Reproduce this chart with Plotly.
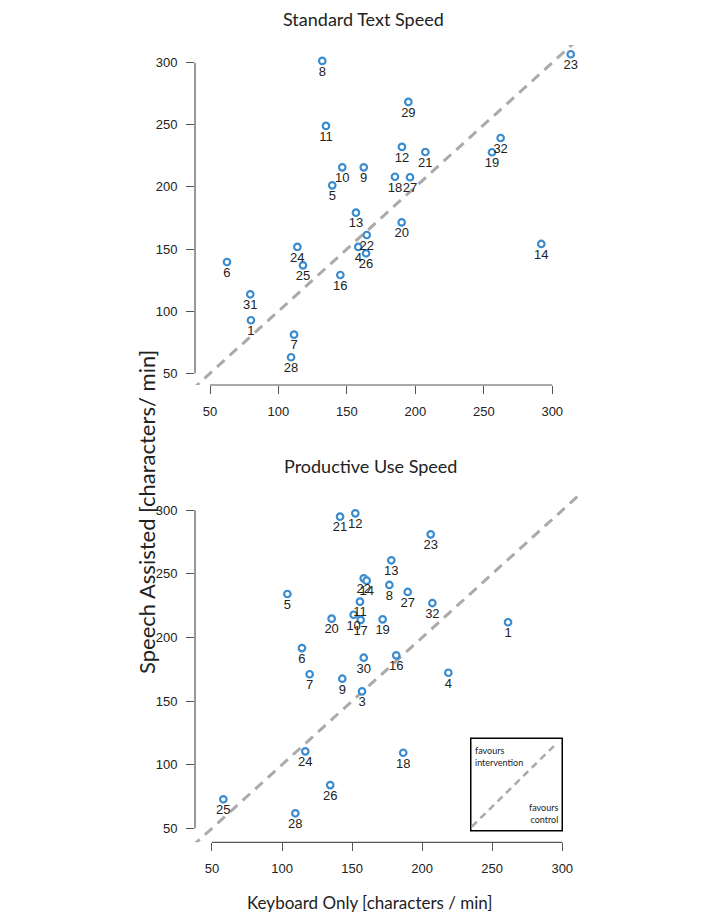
import plotly.graph_objects as go

# ---- Data: Standard Text Speed ----
std_ids = ["8", "11", "10", "9", "5", "13", "22", "4", "26", "24", "25", "6", "16", "31", "1",
           "7", "28", "29", "12", "21", "18", "27", "32", "19", "23", "20", "14"]
std_keyboard = [132.0, 134.7, 146.6, 162.3, 139.3, 156.6, 164.5, 158.3, 164.0, 113.8, 117.9, 62.4,
                145.2, 79.4, 79.9, 111.4, 109.2, 194.9, 190.2, 207.3, 185.1, 196.1, 262.3, 256.0,
                313.5, 190.0, 292.0]
std_speech = [301.4, 249.1, 215.8, 215.8, 201.3, 179.3, 161.3, 151.7, 146.6, 151.7, 136.9, 139.6,
              129.1, 113.6, 92.7, 81.1, 62.9, 268.4, 232.2, 228.1, 208.2, 207.8, 239.4, 227.9,
              306.8, 171.5, 154.1]

# ---- Data: Productive Use Speed ----
prod_ids = ["21", "12", "22", "14", "5", "11", "10", "17", "20", "19", "6", "30", "7", "9", "3",
            "24", "26", "25", "28", "23", "13", "8", "27", "32", "1", "16", "4", "18"]
prod_keyboard = [141.4, 152.3, 158.3, 160.4, 103.8, 155.6, 151.1, 156.1, 135.4, 171.8, 114.2, 158.3,
                 119.7, 143.0, 157.1, 116.6, 134.4, 58.1, 109.5, 206.1, 178.0, 176.6, 189.7, 207.3,
                 261.3, 181.5, 218.7, 186.5]
prod_speech = [295.0, 297.6, 246.5, 244.7, 234.2, 228.2, 217.9, 213.8, 214.8, 214.3, 191.7, 184.1,
               171.1, 167.6, 157.7, 110.5, 84.0, 72.8, 61.8, 281.1, 260.7, 241.3, 235.8, 227.1,
               212.0, 186.0, 172.3, 109.4]

tick_vals = [50, 100, 150, 200, 250, 300]
tick_text = ["50", "100", "150", "200", "250", "300"]

OFF = 8  # page body margin
W, H = 709 - OFF, 922 - OFF
BLUE = "#3a8ccf"
AXC = "#555555"
TXT = "#222222"

def px_x(p):
    return (p - OFF) / W

def px_y(p):
    return 1 - (p - OFF) / H

fig = go.Figure()

def add_panel(xs, ys, ids, xa, ya):
    fig.add_trace(go.Scatter(
        x=[0, 400], y=[0, 400], mode="lines",
        line=dict(color="#aaaaaa", width=3, dash="10px,7px"),
        xaxis=xa, yaxis=ya, hoverinfo="skip", showlegend=False))
    fig.add_trace(go.Scatter(
        x=xs, y=ys, mode="markers+text", text=ids, textposition="bottom center",
        textfont=dict(family="Liberation Sans, Arial", size=13, color=TXT),
        marker=dict(symbol="circle", size=6.5, color="white",
                    line=dict(color=BLUE, width=2.2)),
        xaxis=xa, yaxis=ya, showlegend=False, cliponaxis=False))

add_panel(std_keyboard, std_speech, std_ids, "x", "y")
add_panel(prod_keyboard, prod_speech, prod_ids, "x2", "y2")

# pixel geometry (page pixels)
left_px, right_px = 195, 580
top1_px, bot1_px = 45, 385
top2_px, bot2_px = 495, 842.3

def ax_common():
    return dict(tickvals=tick_vals, ticktext=tick_text, ticks="outside", ticklen=8,
                tickwidth=1, tickcolor=AXC, showline=False, showgrid=False, zeroline=False,
                tickfont=dict(family="Liberation Sans, Arial", size=13, color=TXT))

fig.update_layout(
    width=W, height=H, margin=dict(l=0, r=0, t=0, b=0),
    paper_bgcolor="white", plot_bgcolor="white", showlegend=False,
    xaxis=dict(domain=[px_x(left_px), px_x(right_px)], range=[39.04, 320.27], anchor="y",
               ticklabelstandoff=6, **ax_common()),
    yaxis=dict(domain=[px_y(bot1_px), px_y(top1_px)], range=[40.58, 314.24], anchor="x",
               ticklabelstandoff=6, **ax_common()),
    xaxis2=dict(domain=[px_x(left_px), px_x(right_px)], range=[37.87, 312.67], anchor="y2",
                ticklabelstandoff=6, **ax_common()),
    yaxis2=dict(domain=[px_y(bot2_px), px_y(top2_px)], range=[38.99, 312.03], anchor="x2",
                ticklabelstandoff=6, **ax_common()),
)

# R-style axis lines spanning first to last tick
for xa, ya in (("x", "y"), ("x2", "y2")):
    fig.add_shape(type="line", xref=xa, yref=ya + " domain", x0=50, x1=300, y0=0, y1=0,
                  line=dict(color=AXC, width=1.2))
    fig.add_shape(type="line", xref=xa + " domain", yref=ya, x0=0, x1=0, y0=50, y1=300,
                  line=dict(color=AXC, width=1.2))

# inset key box in lower panel
fig.add_shape(type="rect", xref="x2", yref="y2", x0=234.7, x1=300, y0=48.1, y1=120.8,
              line=dict(color="black", width=1.5), fillcolor="rgba(0,0,0,0)")
fig.add_shape(type="line", xref="x2", yref="y2", x0=235.5, y0=51.3, x1=296, y1=116.8,
              line=dict(color="#aaaaaa", width=2.5, dash="7px,5px"))
fig.add_annotation(xref="x2", yref="y2", x=236.5, y=117, text="favours<br>intervention",
                   showarrow=False, xanchor="left", yanchor="top", align="left",
                   font=dict(family="Lato", size=9, color=TXT))
fig.add_annotation(xref="x2", yref="y2", x=298.5, y=51, text="favours<br>control",
                   showarrow=False, xanchor="right", yanchor="bottom", align="right",
                   font=dict(family="Lato", size=9, color=TXT))

# titles and axis labels
fig.add_annotation(xref="paper", yref="paper", x=px_x(363), y=px_y(19), text="Standard Text Speed",
                   showarrow=False, xanchor="center", yanchor="middle",
                   font=dict(family="Lato", size=18, color=TXT))
fig.add_annotation(xref="paper", yref="paper", x=px_x(370), y=px_y(466), text="Productive Use Speed",
                   showarrow=False, xanchor="center", yanchor="middle",
                   font=dict(family="Lato", size=18, color=TXT))
fig.add_annotation(xref="paper", yref="paper", x=px_x(370), y=px_y(902),
                   text="Keyboard Only [characters / min]",
                   showarrow=False, xanchor="center", yanchor="middle",
                   font=dict(family="Lato", size=17, color=TXT))
fig.add_annotation(xref="paper", yref="paper", x=px_x(146), y=px_y(512),
                   text="Speech Assisted [characters/ min]", textangle=-90,
                   showarrow=False, xanchor="center", yanchor="middle",
                   font=dict(family="Lato", size=22, color=TXT))

fig.write_html("out.html")
